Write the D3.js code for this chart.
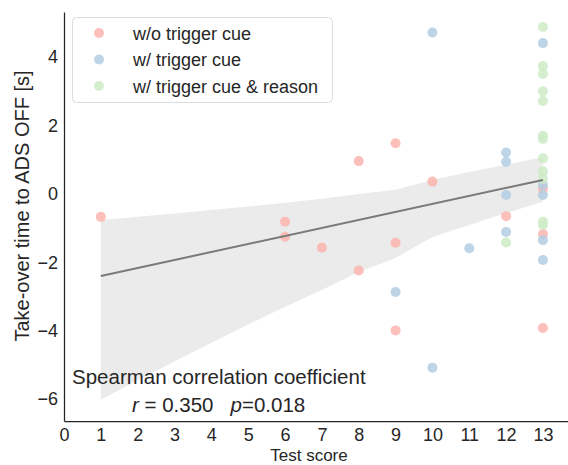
<!DOCTYPE html>
<html>
<head>
<meta charset="utf-8">
<script src="https://cdn.jsdelivr.net/npm/d3@7"></script>
<style>
  body { margin: 0; background: #fff; }
  svg text { font-family: "Liberation Sans", Arial, sans-serif; fill: #262626; }
</style>
</head>
<body>
<script>
// data
var groups = ["w/o trigger cue", "w/ trigger cue", "w/ trigger cue & reason"];
var colors = ["#fbb4ae", "#b3cde3", "#ccebc5"];

var noCueX = [1, 6, 6, 7, 8, 8, 9, 9, 9, 10, 12, 13, 13, 13];
var noCueY = [-0.67, -0.81, -1.25, -1.57, 0.96, -2.24, 1.48, -1.43, -3.99, 0.36, -0.65, 0.15, -1.17, -3.92];

var cueX = [9, 10, 10, 11, 12, 12, 12, 12, 13, 13, 13, 13, 13];
var cueY = [-2.87, 4.72, -5.08, -1.59, 1.21, 0.94, -0.03, -1.11, 4.41, 0.26, -0.03, -1.35, -1.93];

var reasonX = [12, 13, 13, 13, 13, 13, 13, 13, 13, 13, 13, 13, 13];
var reasonY = [-1.42, 4.88, 3.74, 3.51, 3.0, 2.72, 1.70, 1.61, 1.04, 0.66, 0.44, -0.81, -0.91];

// regression line and confidence band
var fitX = [1, 13];
var fitY = [-2.40, 0.41];
var ciX = [1, 2, 3, 4, 5, 6, 7, 8, 9, 10, 11, 12, 13];
var ciHigh = [-0.77, -0.67, -0.57, -0.47, -0.37, -0.26, -0.14, 0.0, 0.12, 0.41, 0.64, 0.85, 1.08];
var ciLow = [-6.02, -5.45, -4.9, -4.35, -3.82, -3.3, -2.81, -2.28, -1.87, -1.26, -0.91, -0.56, -0.23];

var xTicks = [0, 1, 2, 3, 4, 5, 6, 7, 8, 9, 10, 11, 12, 13];
var yTicks = [-6, -4, -2, 0, 2, 4];

var width = 568, height = 465,
    margin = {left: 64, top: 12, right: 0, bottom: 44};

var svg = d3.select("body").append("svg").attr("width", width).attr("height", height);

var x = d3.scaleLinear().domain([0, 13.68]).range([margin.left, width - margin.right]);
var y = d3.scaleLinear().domain([-6.64, 5.32]).range([height - margin.bottom, margin.top]);

// confidence band
var band = ciX.map(function(d, i){ return {x: d, lo: ciLow[i], hi: ciHigh[i]}; });
svg.append("path").datum(band)
   .attr("fill", "#ebebeb")
   .attr("d", d3.area().x(function(d){ return x(d.x); })
                       .y0(function(d){ return y(d.lo); })
                       .y1(function(d){ return y(d.hi); }));

// points
var series = [[noCueX, noCueY], [cueX, cueY], [reasonX, reasonY]];
series.forEach(function(s, k){
  svg.append("g").selectAll("circle")
     .data(s[0].map(function(d, i){ return [d, s[1][i]]; }))
     .enter().append("circle")
       .attr("cx", function(d){ return x(d[0]); })
       .attr("cy", function(d){ return y(d[1]); })
       .attr("r", 5)
       .attr("fill", colors[k])
       .attr("fill-opacity", 0.85);
});

// fit line
svg.append("path").datum(fitX.map(function(d, i){ return [d, fitY[i]]; }))
   .attr("fill", "none").attr("stroke", "#7a7a7a").attr("stroke-width", 2)
   .attr("d", d3.line().x(function(d){ return x(d[0]); }).y(function(d){ return y(d[1]); }));

// axes
var xAxis = d3.axisBottom(x).tickValues(xTicks).tickSize(0).tickPadding(7).tickFormat(d3.format("d"));
var yAxis = d3.axisLeft(y).tickValues(yTicks).tickSize(0).tickPadding(6)
              .tickFormat(function(d){ return d < 0 ? "\u2212" + Math.abs(d) : d; });

var gx = svg.append("g").attr("transform", "translate(0," + (height - margin.bottom) + ")").call(xAxis);
var gy = svg.append("g").attr("transform", "translate(" + margin.left + ",0)").call(yAxis);
[gx, gy].forEach(function(g){
  g.select(".domain").attr("stroke", "#262626").attr("stroke-width", 1.25);
  g.selectAll("text").attr("font-size", 18).attr("fill", "#262626")
   .style("font-family", "Liberation Sans, Arial, sans-serif");
});

svg.append("text").attr("x", 309).attr("y", 460.5).attr("text-anchor", "middle")
   .attr("font-size", 17).text("Test score");
svg.append("text").attr("transform", "translate(29,206) rotate(-90)").attr("text-anchor", "middle")
   .attr("font-size", 20).text("Take-over time to ADS OFF [s]");

// annotation
svg.append("text").attr("x", 72).attr("y", 384).attr("font-size", 20.5).text("Spearman correlation coefficient");
var stat = svg.append("text").attr("x", 132).attr("y", 412).attr("font-size", 20.5);
stat.append("tspan").attr("font-style", "italic").text("r");
stat.append("tspan").text(" = 0.350 \u00a0 ");
stat.append("tspan").attr("font-style", "italic").text("p");
stat.append("tspan").text("=0.018");

// legend
var legend = svg.append("g");
legend.append("rect").attr("x", 72.5).attr("y", 17.5).attr("width", 260).attr("height", 85)
      .attr("rx", 4).attr("fill", "#fff").attr("fill-opacity", 0.8)
      .attr("stroke", "#dcdcdc").attr("stroke-width", 1);
groups.forEach(function(g, i){
  legend.append("circle").attr("cx", 99).attr("cy", 33 + i * 26.5).attr("r", 5)
        .attr("fill", colors[i]).attr("fill-opacity", 0.85);
  legend.append("text").attr("x", 133).attr("y", 39.5 + i * 26.5).attr("font-size", 18).text(g);
});
</script>
</body>
</html>
